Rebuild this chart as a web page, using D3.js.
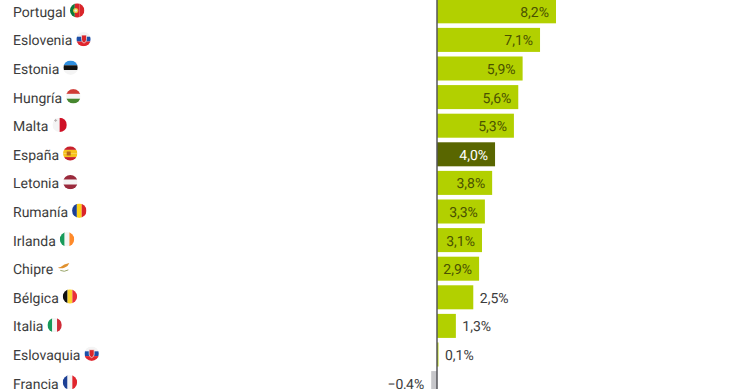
<!DOCTYPE html>
<html>
<head>
<meta charset="utf-8">
<style>
    html, body { margin: 0; padding: 0; background: #fff; overflow: hidden; }
    text { font-family: Roboto, sans-serif; font-size: 14px; text-rendering: geometricPrecision; }
</style>
</head>
<body>
<div id="chart"></div>
<script src="https://cdn.jsdelivr.net/npm/d3@7"></script>
<script>
'use strict';

const countries = ['Portugal', 'Eslovenia', 'Estonia', 'Hungría', 'Malta', 'España', 'Letonia', 'Rumanía', 'Irlanda', 'Chipre', 'Bélgica', 'Italia', 'Eslovaquia', 'Francia'];
const values = [8.2, 7.1, 5.9, 5.6, 5.3, 4.0, 3.8, 3.3, 3.1, 2.9, 2.5, 1.3, 0.1, -0.4];

// flag stripes, first to last
const flagColors = [
    ['#0a7a3b', '#d9252a', '#d9252a'],
    ['#f4f4f4', '#1d4fa8', '#e0252d'],
    ['#2f8fe0', '#111111', '#f4f4f4'],
    ['#cf3a35', '#f4f4f4', '#47872f'],
    ['#f4f4f4', '#cf1126'],
    ['#c8202c', '#f6c21c', '#f6c21c', '#c8202c'],
    ['#9a2a3c', '#f4f4f4', '#9a2a3c'],
    ['#1c3f94', '#fcd116', '#d9252a'],
    ['#179a5a', '#f4f4f4', '#ff8a2a'],
    ['#ffffff'],
    ['#111111', '#fbd42e', '#e8303a'],
    ['#179a5a', '#f4f4f4', '#cf2b37'],
    ['#f4f4f4', '#1d4fa8', '#e0252d'],
    ['#1c3f94', '#f4f4f4', '#e0252d']
];
const flagVertical = [true, false, false, false, true, false, false, true, true, false, true, true, false, true];

const width = 740;
const height = 389;
const flagRadius = 7.2;

const barColor = '#b2d000';
const highlightColor = '#596600';
const negativeColor = '#c6c6ca';
const textColor = '#3c3c3c';

const svg = d3.select('#chart')
    .append('svg')
    .attr('width', width)
    .attr('height', height);

const xScale = d3.scaleLinear()
    .domain([0, 8.2])
    .range([437, 556]);

const yScale = d3.scaleBand()
    .domain(countries)
    .range([-3, 397.4])
    .paddingInner(0.16)
    .paddingOuter(0.08);

const rows = countries.map((name, i) => ({ name: name, value: values[i], i: i }));
const formatValue = (v) => (v < 0 ? '\u2212' : '') + Math.abs(v).toFixed(1).replace('.', ',') + '%';
const center = (d) => yScale(d.name) + yScale.bandwidth() / 2;
const isInside = (d) => d.value >= 2.9;

let renderBars = function renderBars() {

    svg.append('g')
        .attr('class', 'bars')
        .selectAll('rect')
        .data(rows)
        .enter()
        .append('rect')
        .attr('x', (d) => Math.min(xScale(0), xScale(d.value)))
        .attr('y', (d) => yScale(d.name))
        .attr('width', (d) => Math.abs(xScale(d.value) - xScale(0)))
        .attr('height', yScale.bandwidth())
        .attr('fill', (d) => {
            if (d.value < 0) return negativeColor;
            return d.name === 'España' ? highlightColor : barColor;
        });

    svg.append('line')
        .attr('x1', xScale(0))
        .attr('x2', xScale(0))
        .attr('y1', 0)
        .attr('y2', height)
        .attr('stroke', '#55555a')
        .attr('stroke-width', 1.5);
}

let renderValues = function renderValues() {

    svg.append('g')
        .attr('class', 'values')
        .selectAll('text')
        .data(rows)
        .enter()
        .append('text')
        .attr('x', (d) => {
            if (d.value < 0) return xScale(d.value) - 7;
            return isInside(d) ? xScale(d.value) - 7 : xScale(d.value) + 6.5;
        })
        .attr('y', (d) => center(d) + 0.5)
        .attr('dy', '0.35em')
        .attr('text-anchor', (d) => (isInside(d) || d.value < 0) ? 'end' : 'start')
        .attr('fill', (d) => {
            if (d.name === 'España') return '#ffffff';
            return isInside(d) ? '#4a5200' : textColor;
        })
        .text((d) => formatValue(d.value));
}

let renderFlag = function renderFlag(g, d) {

    let colors = flagColors[d.i];
    let vertical = flagVertical[d.i];
    let stripe = d3.scaleBand()
        .domain(d3.range(colors.length))
        .range([-flagRadius, flagRadius]);

    let clipId = 'flag-' + d.i;
    g.append('clipPath')
        .attr('id', clipId)
        .append('circle')
        .attr('r', flagRadius);

    let inner = g.append('g').attr('clip-path', 'url(#' + clipId + ')');

    inner.selectAll('rect')
        .data(colors)
        .enter()
        .append('rect')
        .attr('x', (c, i) => vertical ? stripe(i) : -flagRadius)
        .attr('y', (c, i) => vertical ? -flagRadius : stripe(i))
        .attr('width', vertical ? stripe.bandwidth() : flagRadius * 2)
        .attr('height', vertical ? flagRadius * 2 : stripe.bandwidth())
        .attr('fill', (c) => c);

    if (d.name === 'Portugal') {
        inner.append('circle').attr('cx', -1.5).attr('r', 2.6).attr('fill', '#e8c33a');
        inner.append('circle').attr('cx', -1.5).attr('r', 1.3).attr('fill', '#e8e8f0');
    }
    if (d.name === 'España') {
        inner.append('rect').attr('x', -3.5).attr('y', -2).attr('width', 4).attr('height', 4).attr('fill', '#b5651d');
    }
    if (d.name === 'Eslovenia' || d.name === 'Eslovaquia') {
        let sx = d.name === 'Eslovenia' ? -2 : -2.5;
        inner.append('path')
            .attr('d', 'M' + sx + ',-4h5v4.5q0,2.5 -2.5,3.5q-2.5,-1 -2.5,-3.5z')
            .attr('fill', '#d9252a')
            .attr('stroke', '#f4f4f4')
            .attr('stroke-width', 0.7);
    }
    if (d.name === 'Malta') {
        g.append('path').attr('d', 'M-4,-6v3M-5.5,-4.5h3').attr('stroke', '#b8b0b0').attr('stroke-width', 1);
    }
    if (d.name === 'Chipre') {
        g.append('path').attr('d', 'M-6,-0.5q3,-0.5 6,-3l5,-1.5q-1,3 -4.5,4.5q-3.5,1.5 -6.5,0.5z').attr('fill', '#e0912f');
        g.append('path').attr('d', 'M-4,2.5q4,2 8,-0.5').attr('fill', 'none').attr('stroke', '#9aa66a').attr('stroke-width', 1);
    }
}

let renderLabels = function renderLabels() {

    let label = svg.append('g')
        .attr('class', 'labels')
        .selectAll('g')
        .data(rows)
        .enter()
        .append('g');

    label.append('text')
        .attr('x', 13)
        .attr('y', (d) => center(d) + 0.5)
        .attr('dy', '0.35em')
        .attr('fill', textColor)
        .text((d) => d.name);

    label.each(function(d) {
        let g = d3.select(this);
        let textEnd = 13 + g.select('text').node().getComputedTextLength();
        let flag = g.append('g')
            .attr('transform', 'translate(' + (textEnd + 4 + flagRadius) + ',' + (center(d) - 0.8) + ')');
        renderFlag(flag, d);
    });
}

renderBars();
renderValues();
renderLabels();
</script>
</body>
</html>
